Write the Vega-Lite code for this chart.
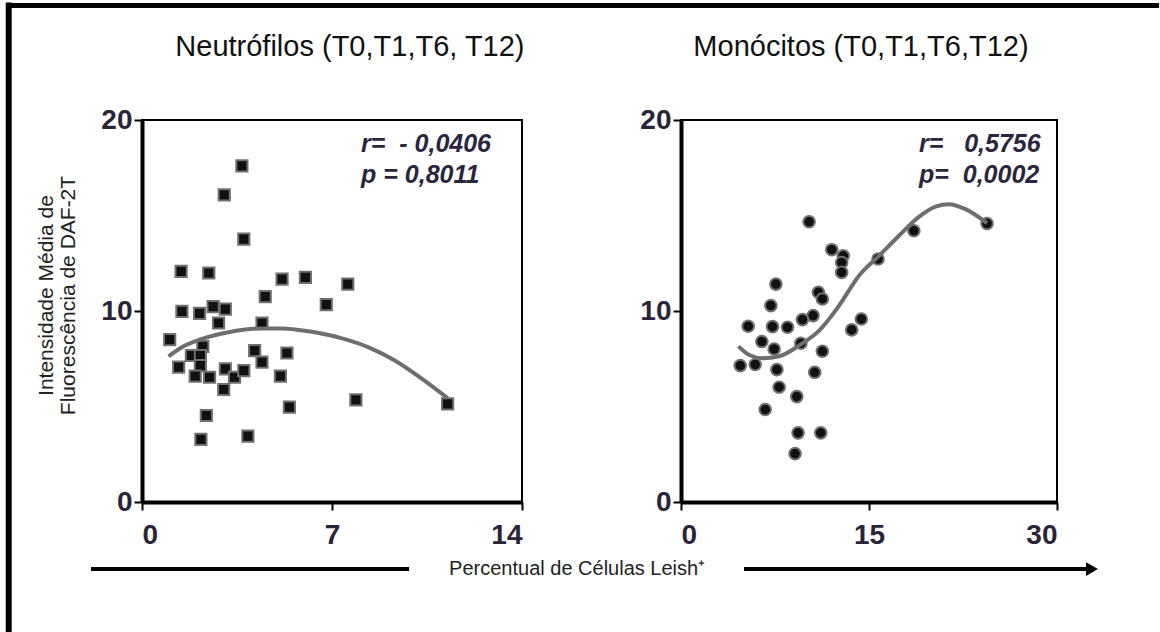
{
  "$schema": "https://vega.github.io/schema/vega-lite/v6.json",
  "autosize": {"type": "pad"},
  "padding": {"left": 3, "top": 0, "right": 0, "bottom": 0},
  "background": "white",
  "bounds": "flush",
  "spacing": 159,
  "config": {
    "view": {"stroke": "black", "strokeWidth": 2},
    "axis": {
      "grid": false,
      "domainColor": "black",
      "domainWidth": 4,
      "tickColor": "black",
      "tickWidth": 2,
      "tickSize": 8,
      "labelFont": "Liberation Sans",
      "labelFontWeight": "bold",
      "labelFontSize": 28,
      "labelColor": "#2b2438",
      "titleFont": "Liberation Sans",
      "titleFontWeight": "normal",
      "titleFontSize": 21,
      "titleColor": "#222222"
    },
    "axisX": {"labelPadding": 11},
    "axisY": {"labelPadding": 2}
  },
  "datasets": {
    "neutrofilos": [
      {"leish": 3.68, "daf": 17.6}, {"leish": 3.03, "daf": 16.08}, {"leish": 3.75, "daf": 13.76},
      {"leish": 1.44, "daf": 12.07}, {"leish": 2.46, "daf": 11.99}, {"leish": 5.16, "daf": 11.67},
      {"leish": 6.02, "daf": 11.76}, {"leish": 7.58, "daf": 11.41}, {"leish": 4.54, "daf": 10.75},
      {"leish": 6.79, "daf": 10.33}, {"leish": 1.47, "daf": 9.98}, {"leish": 2.12, "daf": 9.88},
      {"leish": 2.62, "daf": 10.23}, {"leish": 3.07, "daf": 10.1}, {"leish": 2.82, "daf": 9.37},
      {"leish": 4.42, "daf": 9.37}, {"leish": 1.02, "daf": 8.5}, {"leish": 2.24, "daf": 8.15},
      {"leish": 1.82, "daf": 7.67}, {"leish": 2.15, "daf": 7.67}, {"leish": 4.15, "daf": 7.93},
      {"leish": 5.34, "daf": 7.8}, {"leish": 2.15, "daf": 7.14}, {"leish": 1.35, "daf": 7.06},
      {"leish": 4.42, "daf": 7.32}, {"leish": 3.07, "daf": 6.97}, {"leish": 1.96, "daf": 6.59},
      {"leish": 2.49, "daf": 6.53}, {"leish": 3.41, "daf": 6.53}, {"leish": 3.75, "daf": 6.88},
      {"leish": 5.1, "daf": 6.59}, {"leish": 3.01, "daf": 5.89}, {"leish": 7.88, "daf": 5.35},
      {"leish": 11.26, "daf": 5.14}, {"leish": 5.43, "daf": 4.97}, {"leish": 2.37, "daf": 4.53},
      {"leish": 2.17, "daf": 3.28}, {"leish": 3.9, "daf": 3.45}
    ],
    "ajuste_neutrofilos": [
      {"leish": 0.98, "daf": 7.63}, {"leish": 1.47, "daf": 8.1}, {"leish": 2.21, "daf": 8.54},
      {"leish": 3.19, "daf": 8.89}, {"leish": 4.42, "daf": 9.09}, {"leish": 5.16, "daf": 9.09},
      {"leish": 6.14, "daf": 8.94}, {"leish": 7.37, "daf": 8.57}, {"leish": 8.35, "daf": 8.1},
      {"leish": 9.33, "daf": 7.4}, {"leish": 10.32, "daf": 6.45}, {"leish": 11.26, "daf": 5.44}
    ],
    "monocitos": [
      {"leish": 10.22, "daf": 14.67}, {"leish": 24.42, "daf": 14.58}, {"leish": 18.58, "daf": 14.2},
      {"leish": 12.03, "daf": 13.21}, {"leish": 12.95, "daf": 12.89}, {"leish": 12.82, "daf": 12.54},
      {"leish": 12.82, "daf": 12.02}, {"leish": 15.72, "daf": 12.72}, {"leish": 7.57, "daf": 11.41},
      {"leish": 10.96, "daf": 10.98}, {"leish": 11.28, "daf": 10.63}, {"leish": 7.17, "daf": 10.28},
      {"leish": 10.54, "daf": 9.76}, {"leish": 9.69, "daf": 9.55}, {"leish": 14.39, "daf": 9.58},
      {"leish": 13.62, "daf": 9.01}, {"leish": 5.36, "daf": 9.2}, {"leish": 7.3, "daf": 9.18},
      {"leish": 8.5, "daf": 9.15}, {"leish": 6.45, "daf": 8.4}, {"leish": 7.43, "daf": 8.01},
      {"leish": 9.56, "daf": 8.31}, {"leish": 11.28, "daf": 7.89}, {"leish": 4.73, "daf": 7.14},
      {"leish": 5.92, "daf": 7.2}, {"leish": 7.65, "daf": 6.93}, {"leish": 10.67, "daf": 6.79},
      {"leish": 7.83, "daf": 6.01}, {"leish": 9.24, "daf": 5.52}, {"leish": 6.72, "daf": 4.84},
      {"leish": 9.34, "daf": 3.62}, {"leish": 11.15, "daf": 3.62}, {"leish": 9.1, "daf": 2.53}
    ],
    "ajuste_monocitos": [
      {"leish": 4.59, "daf": 8.15}, {"leish": 5.44, "daf": 7.7}, {"leish": 6.5, "daf": 7.53},
      {"leish": 7.83, "daf": 7.63}, {"leish": 9.42, "daf": 8.19}, {"leish": 11.02, "daf": 8.97},
      {"leish": 12.61, "daf": 10.28}, {"leish": 14.2, "daf": 11.85}, {"leish": 15.8, "daf": 12.89},
      {"leish": 17.39, "daf": 13.94}, {"leish": 18.98, "daf": 14.93}, {"leish": 20.31, "daf": 15.47},
      {"leish": 21.37, "daf": 15.59}, {"leish": 22.7, "daf": 15.33}, {"leish": 24.42, "daf": 14.6}
    ],
    "um": [{}]
  },
  "hconcat": [
    {
      "width": 380,
      "height": 382,
      "layer": [
        {
          "data": {"name": "neutrofilos"},
          "mark": {"type": "point", "shape": "square", "filled": true, "size": 125, "color": "#111111", "stroke": "#707070", "strokeWidth": 2, "opacity": 1},
          "encoding": {
            "x": {"field": "leish", "type": "quantitative", "scale": {"domain": [0, 14], "nice": false, "zero": false},
                  "axis": {"values": [0, 7, 14], "title": null}},
            "y": {"field": "daf", "type": "quantitative", "scale": {"domain": [0, 20], "nice": false, "zero": false},
                  "axis": {"values": [0, 10, 20], "title": ["Intensidade Média de", "Fluorescência de DAF-2T"],
                           "titleLineHeight": 22, "titlePadding": 22, "titleY": 175}}
          }
        },
        {
          "data": {"name": "ajuste_neutrofilos"},
          "mark": {"type": "line", "color": "#6e6e6e", "strokeWidth": 4, "interpolate": "monotone"},
          "encoding": {
            "x": {"field": "leish", "type": "quantitative"},
            "y": {"field": "daf", "type": "quantitative"}
          }
        },
        {
          "data": {"name": "um"},
          "mark": {"type": "text", "align": "center", "baseline": "alphabetic", "font": "Liberation Sans", "fontSize": 29, "color": "#111111"},
          "encoding": {"x": {"datum": 7.66}, "y": {"datum": 23.35}, "text": {"value": "Neutrófilos (T0,T1,T6, T12)"}}
        },
        {
          "data": {"name": "um"},
          "mark": {"type": "text", "align": "left", "baseline": "alphabetic", "font": "Liberation Sans", "fontSize": 25, "fontWeight": "bold", "fontStyle": "italic", "color": "#2b2640"},
          "encoding": {"x": {"datum": 8.07}, "y": {"datum": 18.32}, "text": {"value": "r=\u00a0\u00a0-\u00a00,0406"}}
        },
        {
          "data": {"name": "um"},
          "mark": {"type": "text", "align": "left", "baseline": "alphabetic", "font": "Liberation Sans", "fontSize": 25, "fontWeight": "bold", "fontStyle": "italic", "color": "#2b2640"},
          "encoding": {"x": {"datum": 8.07}, "y": {"datum": 16.7}, "text": {"value": "p = 0,8011"}}
        },
        {
          "data": {"name": "um"},
          "mark": {"type": "rule", "color": "black", "strokeWidth": 6, "strokeCap": "square"},
          "encoding": {"x": {"datum": -4.91}, "y": {"datum": 25.99}, "y2": {"datum": -6.75}}
        },
        {
          "data": {"name": "um"},
          "mark": {"type": "rule", "color": "black", "strokeWidth": 5},
          "encoding": {"x": {"datum": -4.91}, "x2": {"datum": 37.47}, "y": {"datum": 25.99}}
        },
        {
          "data": {"name": "um"},
          "mark": {"type": "rule", "color": "black", "strokeWidth": 4},
          "encoding": {"x": {"datum": -1.88}, "x2": {"datum": 9.84}, "y": {"datum": -3.51}}
        },
        {
          "data": {"name": "um"},
          "mark": {"type": "rule", "color": "black", "strokeWidth": 4},
          "encoding": {"x": {"datum": 22.18}, "x2": {"datum": 34.9}, "y": {"datum": -3.51}}
        },
        {
          "data": {"name": "um"},
          "mark": {"type": "point", "shape": "triangle-right", "filled": true, "size": 190, "color": "black", "opacity": 1},
          "encoding": {"x": {"datum": 35.0}, "y": {"datum": -3.51}}
        },
        {
          "data": {"name": "um"},
          "mark": {"type": "text", "align": "center", "baseline": "middle", "font": "Liberation Sans", "fontSize": 20, "color": "#222222"},
          "encoding": {"x": {"datum": 16.03}, "y": {"datum": -3.51}, "text": {"value": "Percentual de Células Leish⁺"}}
        }
      ]
    },
    {
      "width": 376,
      "height": 382,
      "layer": [
        {
          "data": {"name": "monocitos"},
          "mark": {"type": "point", "shape": "circle", "filled": true, "size": 135, "color": "#111111", "stroke": "#707070", "strokeWidth": 2, "opacity": 1},
          "encoding": {
            "x": {"field": "leish", "type": "quantitative", "scale": {"domain": [0, 30], "nice": false, "zero": false},
                  "axis": {"values": [0, 15, 30], "title": null}},
            "y": {"field": "daf", "type": "quantitative", "scale": {"domain": [0, 20], "nice": false, "zero": false},
                  "axis": {"values": [0, 10, 20], "title": null}}
          }
        },
        {
          "data": {"name": "ajuste_monocitos"},
          "mark": {"type": "line", "color": "#6e6e6e", "strokeWidth": 4, "interpolate": "monotone"},
          "encoding": {
            "x": {"field": "leish", "type": "quantitative"},
            "y": {"field": "daf", "type": "quantitative"}
          }
        },
        {
          "data": {"name": "um"},
          "mark": {"type": "text", "align": "center", "baseline": "alphabetic", "font": "Liberation Sans", "fontSize": 29, "color": "#111111"},
          "encoding": {"x": {"datum": 14.36}, "y": {"datum": 23.35}, "text": {"value": "Monócitos (T0,T1,T6,T12)"}}
        },
        {
          "data": {"name": "um"},
          "mark": {"type": "text", "align": "left", "baseline": "alphabetic", "font": "Liberation Sans", "fontSize": 25, "fontWeight": "bold", "fontStyle": "italic", "color": "#2b2640"},
          "encoding": {"x": {"datum": 18.99}, "y": {"datum": 18.32}, "text": {"value": "r=\u00a0\u00a0 0,5756"}}
        },
        {
          "data": {"name": "um"},
          "mark": {"type": "text", "align": "left", "baseline": "alphabetic", "font": "Liberation Sans", "fontSize": 25, "fontWeight": "bold", "fontStyle": "italic", "color": "#2b2640"},
          "encoding": {"x": {"datum": 18.99}, "y": {"datum": 16.7}, "text": {"value": "p=\u00a0 0,0002"}}
        }
      ]
    }
  ]
}
